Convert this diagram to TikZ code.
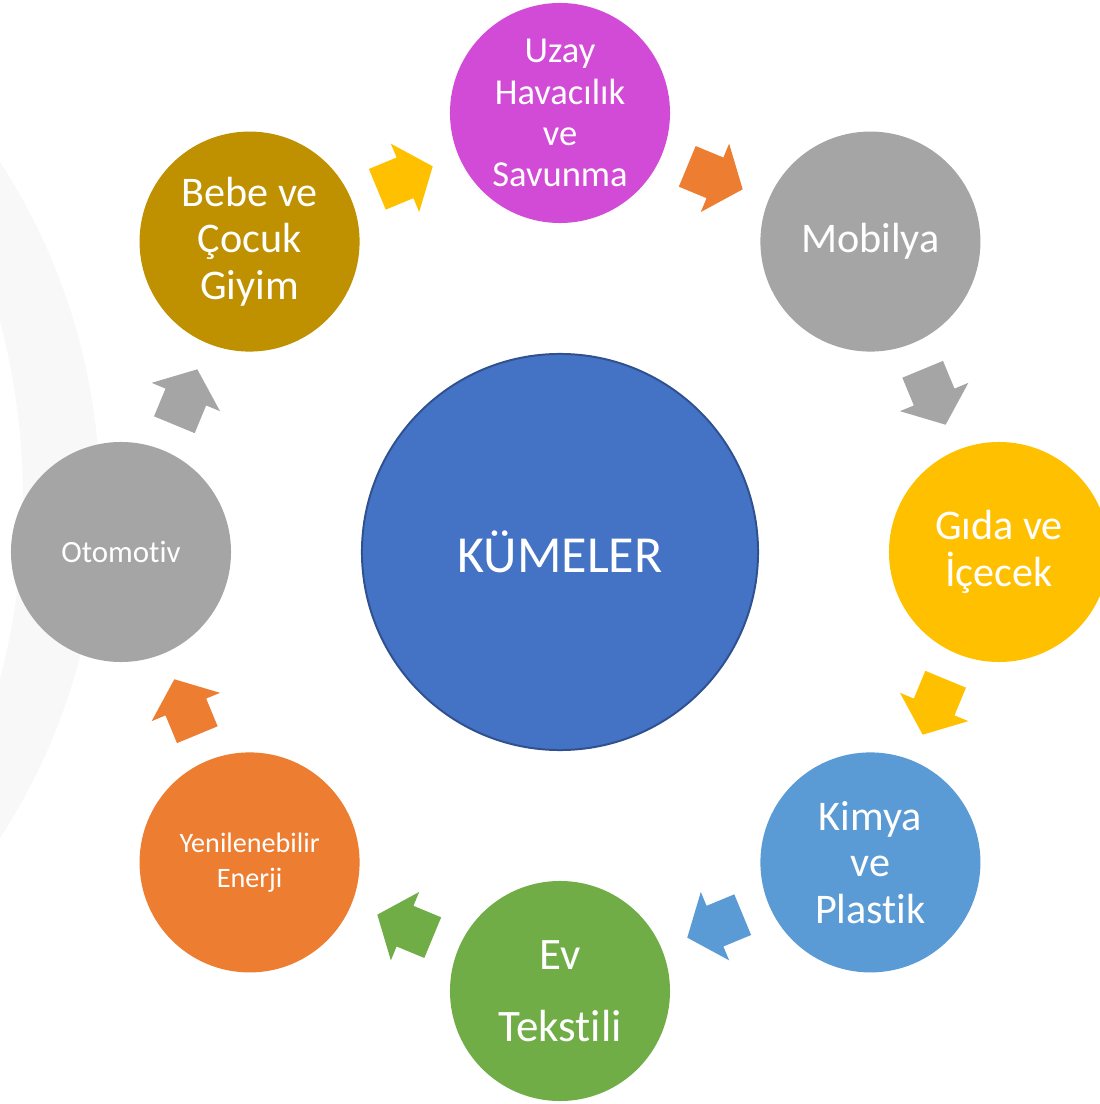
\documentclass[tikz,border=0pt]{standalone}
\usepackage{fontspec}
\setmainfont{Carlito}[Ligatures=NoCommon]
\usepackage{tikz}
\usetikzlibrary{positioning}

\definecolor{kBlue}{HTML}{4472C4}
\definecolor{kBlueLine}{HTML}{2F528F}
\definecolor{kMagenta}{HTML}{D24BD6}
\definecolor{kGray}{HTML}{A5A5A5}
\definecolor{kGold}{HTML}{FFC000}
\definecolor{kSky}{HTML}{5B9BD5}
\definecolor{kGreen}{HTML}{70AD47}
\definecolor{kOrange}{HTML}{ED7D31}
\definecolor{kOchre}{HTML}{BF9000}
\definecolor{kFaint}{HTML}{F8F8F8}

\tikzset{
  kume/.style={circle, fill=#1, draw=none, minimum size=5.5cm, inner sep=0pt,
    text=white, align=center},
  pics/blockarr/.style={code={
    \fill[#1] (-30,-22) -- (0,-22) -- (0,-37) -- (30,0) -- (0,37) -- (0,22) -- (-30,22) -- cycle;
  }}
}

\begin{document}
\begin{tikzpicture}[x=0.025cm, y=0.025cm]

    \useasboundingbox (-560,-552) rectangle (539,552);

    % faint background arc
    \begin{scope}
        \clip (-560,-552) rectangle (539,552);
        \fill[kFaint, even odd rule] (-1081,52) circle (621) (-1237,52) circle (700);
    \end{scope}

    \node[kume=kBlue, draw=kBlueLine, line width=1.4pt, minimum size=9.9cm,
          font=\fontsize{37}{44}\selectfont] (kume) at (0,0) {KÜMELER};

    \node[kume=kMagenta, font=\fontsize{26}{29.2}\selectfont] (uzay) at (90:439) {Uzay\\Havacılık\\ve\\Savunma};
    \node[kume=kGray, font=\fontsize{30}{33}\selectfont] (mobilya) at (45:439) {Mobilya};
    \node[kume=kGold, font=\fontsize{30}{33}\selectfont] (gida) at (0:439) {Gıda ve\\İçecek};
    \node[kume=kSky, font=\fontsize{30}{33}\selectfont] (kimya) at (-45:439) {Kimya\\ve\\Plastik};
    \node[kume=kGreen, font=\fontsize{32}{51}\selectfont] (ev) at (-90:439) {Ev\\Tekstili};
    \node[kume=kOrange, font=\fontsize{20}{25}\selectfont] (enerji) at (-135:439) {Yenilenebilir\\Enerji};
    \node[kume=kGray, font=\fontsize{22}{26}\selectfont] (otomotiv) at (180:439) {Otomotiv};
    \node[kume=kOchre, font=\fontsize{30}{33}\selectfont] (bebe) at (135:439) {Bebe ve\\Çocuk\\Giyim};

    % block arrows between the clusters
    \foreach \a/\c in {112.5/kGold, 67.5/kOrange, 22.5/kGray, -22.5/kGold,
                       -67.5/kSky, -112.5/kGreen, -157.5/kOrange, 157.5/kGray}
        \pic[rotate=\a-90] at (\a:405) {blockarr=\c};

\end{tikzpicture}
\end{document}
